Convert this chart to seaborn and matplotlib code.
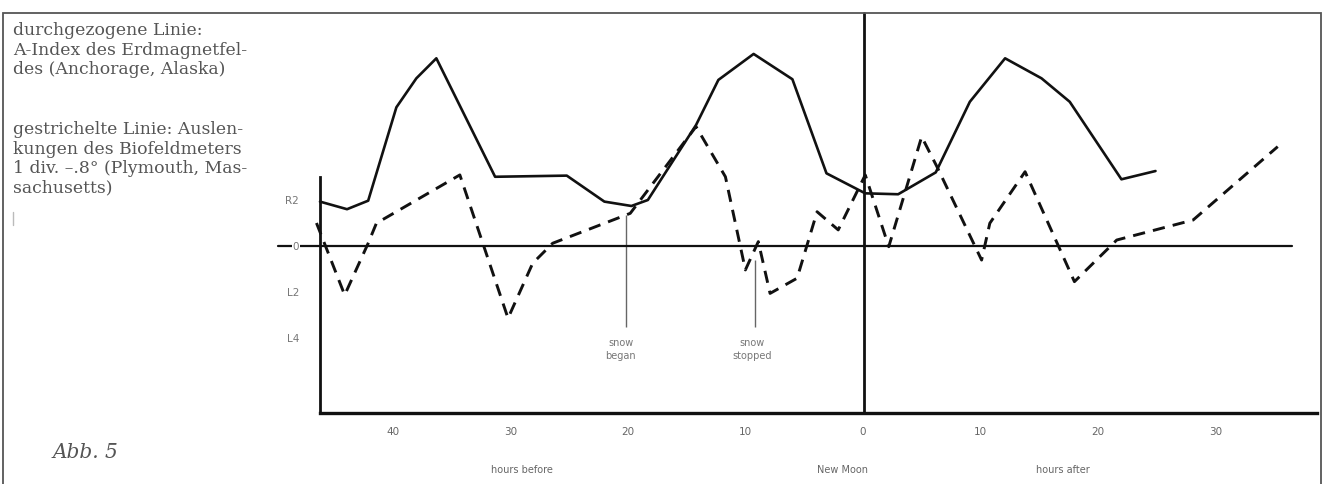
import matplotlib
matplotlib.use("Agg")
import matplotlib.pyplot as plt
import seaborn as sns
from matplotlib.patches import Rectangle
from matplotlib.lines import Line2D

# hours relative to New Moon (before = negative)
hours_solid = [-46.2, -43.9, -42.1, -39.7, -38.0, -36.3, -31.3, -25.2, -22.0, -19.7,
               -18.3, -14.2, -12.3, -9.3, -6.0, -3.1, 0.2, 3.0, 6.2, 9.1,
               12.1, 15.2, 17.6, 22.0, 24.9]
a_index = [1.93, 1.60, 1.97, 6.03, 7.29, 8.16, 3.01, 3.06, 1.93, 1.74,
           2.00, 5.26, 7.22, 8.35, 7.25, 3.16, 2.29, 2.25, 3.20, 6.27,
           8.16, 7.29, 6.27, 2.90, 3.26]

hours_dashed = [-46.5, -44.1, -42.1, -41.4, -34.3, -30.2, -28.1, -26.4, -19.8, -14.2,
                -11.7, -10.0, -8.9, -7.9, -5.6, -3.9, -2.1, 0.2, 2.2, 5.0,
                6.3, 10.1, 10.8, 13.8, 18.0, 21.6, 28.1, 35.3]
biofield = [1.00, -2.13, 0.12, 0.99, 3.09, -3.14, -0.75, 0.12, 1.42, 5.19,
            3.01, -1.04, 0.19, -2.06, -1.40, 1.49, 0.70, 3.09, -0.03, 4.75,
            3.45, -0.61, 0.99, 3.23, -1.55, 0.26, 1.13, 4.32]

x_ticks = [-40, -30, -20, -10, 0, 10, 20, 30]
x_tick_labels = ["40", "30", "20", "10", "0", "10", "20", "30"]
y_ticks = [2, 0, -2, -4]
y_tick_labels = ["R2", "0", "L2", "L4"]

snow_began, snow_stopped = -20.2, -9.2

sns.set_style("white")
plt.rcParams["font.family"] = ["DejaVu Sans"]

W, H = 1328, 484
fig = plt.figure(figsize=(W / 100, H / 100), dpi=100)

# plot area, placed by pixel position of the original figure
ax = fig.add_axes([320 / W, (H - 413) / H, (1316.5 - 320) / W, 236 / H])
ax.set_xlim(-46.2, 38.6)
ax.set_ylim(-7.26, 3.0)
ax.set_axisbelow(False)

ink = "#111111"
sns.lineplot(x=hours_solid, y=a_index, ax=ax, color=ink, lw=1.9, sort=False,
             estimator=None, clip_on=False, zorder=3)
sns.lineplot(x=hours_dashed, y=biofield, ax=ax, color=ink, lw=2.1, sort=False,
             estimator=None, clip_on=False, zorder=3, linestyle=(0, (4.2, 2.8)))

# zero line and New Moon line
ax.plot([-49.8, 36.5], [0, 0], color=ink, lw=1.6, clip_on=False, zorder=2)
ax.axvline(0.1, ymin=0, ymax=(10.13 + 7.26) / 10.26, color=ink, lw=2.0,
           clip_on=False, zorder=2)

# snow markers
ax.vlines([snow_began], -3.52, 1.35, color="#666666", lw=1.0, zorder=1)
ax.vlines([snow_stopped], -3.52, -0.6, color="#666666", lw=1.0, zorder=1)
ax.text(snow_began - 0.4, -4.5, "snow\nbegan", ha="center", va="center",
        fontsize=7, color="#777777", linespacing=1.3)
ax.text(snow_stopped - 0.2, -4.5, "snow\nstopped", ha="center", va="center",
        fontsize=7, color="#777777", linespacing=1.3)

for s in ["top", "right"]:
    ax.spines[s].set_visible(False)
ax.spines["left"].set_linewidth(2.0)
ax.spines["bottom"].set_linewidth(2.4)
ax.spines["left"].set_color(ink)
ax.spines["bottom"].set_color(ink)

ax.set_xticks(x_ticks)
ax.set_xticklabels(x_tick_labels, fontsize=7.5, color="#666666")
ax.set_yticks(y_ticks)
ax.set_yticklabels(y_tick_labels, fontsize=7.5, color="#777777")
ax.tick_params(axis="x", length=0, pad=10)
ax.tick_params(axis="y", length=0, pad=15)
for lab in ax.get_yticklabels():
    if lab.get_text() == "0":
        lab.set_bbox(dict(facecolor="white", edgecolor="none", pad=0.5))

# bottom captions
for xh, txt in [(-29.0, "hours before"), (-1.7, "New Moon"), (17.0, "hours after")]:
    ax.text(xh, -9.74, txt, ha="center", va="center", fontsize=7,
            color="#666666", clip_on=False)

# frame and legend text
fig.add_artist(Rectangle((3 / W, -0.05), 1318 / W, 1.05 - 13 / H,
                         transform=fig.transFigure, fill=False,
                         edgecolor="#555555", lw=1.3))
fig.add_artist(Line2D([13 / W, 13 / W], [1 - 212 / H, 1 - 225 / H],
                      transform=fig.transFigure, color="#bbbbbb", lw=1))
serif = ["DejaVu Serif"]
fig.text(13 / W, 1 - 22 / H,
         "durchgezogene Linie:\nA-Index des Erdmagnetfel-\ndes (Anchorage, Alaska)",
         family=serif, fontsize=12.4, color="#555555", va="top", ha="left",
         linespacing=1.2)
fig.text(13 / W, 1 - 121 / H,
         "gestrichelte Linie: Auslen-\nkungen des Biofeldmeters\n"
         "1 div. \u2013.8\u00b0 (Plymouth, Mas-\nsachusetts)",
         family=serif, fontsize=12.4, color="#555555", va="top", ha="left",
         linespacing=1.2)
fig.text(53 / W, 1 - 452 / H, "Abb. 5", family=serif, style="italic",
         fontsize=14.5, color="#555555", va="center", ha="left")

fig.savefig("out.png", dpi=100)
